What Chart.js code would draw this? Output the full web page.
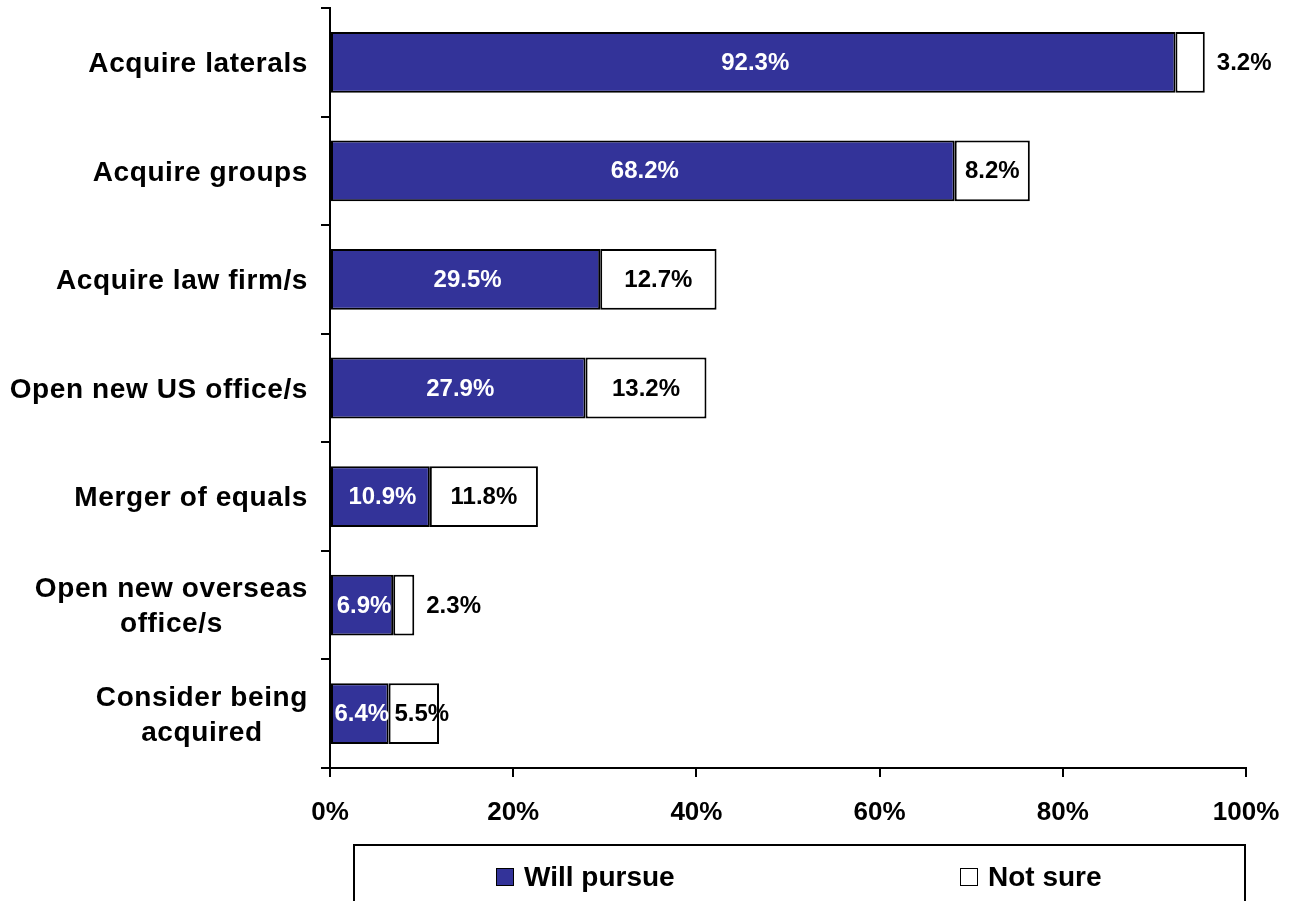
<!DOCTYPE html>
<html>
<head>
<meta charset="utf-8">
<script src="https://cdn.jsdelivr.net/npm/chart.js@4.4.1/dist/chart.umd.min.js"></script>
<style>
  body { margin: 0; background: #fff; }
  #wrap { position: relative; width: 1297px; height: 901px; overflow: hidden; }
  #legend {
    position: absolute; left: 353px; top: 844px; width: 893px; height: 80px;
    border: 2px solid #000; box-sizing: border-box;
    font: bold 28px "Liberation Sans", Arial, sans-serif; color: #000;
  }
  .item { position: absolute; top: 15px; display: flex; align-items: center; }
  .box { width: 16px; height: 16px; border: 1.5px solid #000; margin-right: 10px; }
</style>
</head>
<body>
<div id="wrap">
  <canvas id="myChart" width="1297" height="901"></canvas>
  <div id="legend">
    <div class="item" style="left:141px"><span class="box" style="background:#333399"></span>Will pursue</div>
    <div class="item" style="left:605px"><span class="box" style="background:#fff"></span>Not sure</div>
  </div>
</div>
<script>
const categories = [
  "Acquire laterals",
  "Acquire groups",
  "Acquire law firm/s",
  "Open new US office/s",
  "Merger of equals",
  ["Open new overseas", "office/s"],
  ["Consider being", "acquired"]
];
const willPursue = [92.3, 68.2, 29.5, 27.9, 10.9, 6.9, 6.4];
const notSure = [3.2, 8.2, 12.7, 13.2, 11.8, 2.3, 5.5];
const xTicks = [0, 20, 40, 60, 80, 100];

const FONT = '"Liberation Sans", Arial, sans-serif';

// value labels on the bars
const valueLabels = {
  id: "valueLabels",
  afterDatasetsDraw(chart) {
    const ctx = chart.ctx;
    ctx.save();
    ctx.font = "bold 24px " + FONT;
    ctx.textBaseline = "middle";
    chart.data.datasets.forEach((ds, di) => {
      const meta = chart.getDatasetMeta(di);
      meta.data.forEach((bar, i) => {
        const txt = ds.data[i].toFixed(1) + "%";
        const w = Math.abs(bar.x - bar.base);
        if (di === 0) {
          ctx.fillStyle = "#fff";
          ctx.textAlign = "center";
          ctx.fillText(txt, (bar.x + bar.base) / 2 + 2, bar.y + 1);
        } else if (w < 45) {
          ctx.fillStyle = "#000";
          ctx.textAlign = "left";
          ctx.fillText(txt, bar.x + 12, bar.y + 1);
        } else {
          ctx.fillStyle = "#000";
          ctx.textAlign = "center";
          ctx.fillText(txt, (bar.x + bar.base) / 2 + (w < 60 ? 8 : 0), bar.y + 1);
        }
      });
    });
    ctx.restore();
  }
};

// category labels: block right aligned, lines centred inside block
const catLabels = {
  id: "catLabels",
  afterDraw(chart) {
    const ctx = chart.ctx;
    const y = chart.scales.y;
    ctx.save();
    ctx.font = "bold 28px " + FONT;
    ctx.letterSpacing = "0.6px";
    ctx.fillStyle = "#000";
    ctx.textAlign = "center";
    ctx.textBaseline = "middle";
    const right = chart.chartArea.left - 22;
    const lh = 35;
    chart.data.labels.forEach((lab, i) => {
      const lines = Array.isArray(lab) ? lab : [lab];
      const bw = Math.max(...lines.map(l => ctx.measureText(l).width));
      const cx = right - bw / 2;
      const cy = y.getPixelForValue(i) + 2;
      lines.forEach((l, k) => {
        ctx.fillText(l, cx, cy + (k - (lines.length - 1) / 2) * lh);
      });
    });
    ctx.restore();
  }
};

const ctx = document.getElementById("myChart").getContext("2d");
const myChart = new Chart(ctx, {
  type: "bar",
  data: {
    labels: categories,
    datasets: [
      {
        label: "Will pursue",
        data: willPursue,
        backgroundColor: "#333399",
        borderColor: "#000",
        borderWidth: 2,
        borderSkipped: false,
        barPercentage: 0.56,
        categoryPercentage: 1
      },
      {
        label: "Not sure",
        data: notSure,
        backgroundColor: "#fff",
        borderColor: "#000",
        borderWidth: 2,
        borderSkipped: false,
        barPercentage: 0.56,
        categoryPercentage: 1
      }
    ]
  },
  options: {
    indexAxis: "y",
    responsive: false,
    animation: false,
    layout: { padding: { top: 8, right: 51, left: 0, bottom: 0 } },
    plugins: {
      legend: { display: false },
      tooltip: { enabled: false }
    },
    scales: {
      x: {
        stacked: true,
        min: 0,
        max: 100,
        afterBuildTicks: scale => {
          scale.ticks = xTicks.map(v => ({ value: v }));
        },
        afterFit: scale => {
          scale.height = 133;
          scale.paddingRight = 30;
          scale.paddingLeft = 0;
        },
        border: { display: true, color: "#000", width: 2 },
        grid: { drawOnChartArea: false, drawTicks: true, tickLength: 9, color: "#000", lineWidth: 2 },
        ticks: {
          color: "#000",
          padding: 20,
          maxRotation: 0,
          font: { family: FONT, size: 26, weight: "bold" },
          callback: v => v + "%"
        }
      },
      y: {
        stacked: true,
        afterFit: scale => { scale.width = 330; },
        border: { display: true, color: "#000", width: 2 },
        grid: { drawOnChartArea: false, drawTicks: true, tickLength: 9, color: "#000", lineWidth: 2, offset: true },
        ticks: { display: false }
      }
    }
  },
  plugins: [valueLabels, catLabels]
});
</script>
</body>
</html>
